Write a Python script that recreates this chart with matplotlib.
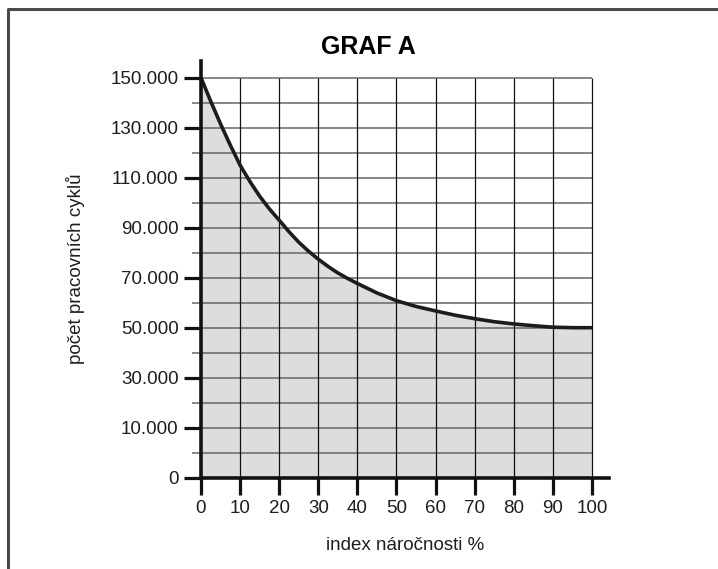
import matplotlib.pyplot as plt
import numpy as np
from matplotlib.lines import Line2D

plt.rcParams['font.family'] = ['Liberation Sans', 'DejaVu Sans']

# index náročnosti % and number of cycles
index_pct = [0, 2.5, 5, 7.5, 10, 12.5, 15, 17.5, 20, 22.5, 25, 27.5, 30, 32.5, 35, 37.5, 40,
             45, 50, 55, 60, 65, 70, 75, 80, 85, 90, 95, 100]
cycles = [150000, 140500, 131500, 123000, 115000, 108500, 102600, 97500, 93000, 88400, 84200,
          80600, 77400, 74500, 71900, 69700, 67700, 63900, 60800, 58500, 56700, 55000, 53600,
          52400, 51500, 50800, 50200, 50000, 50000]

x_ticks = [0, 10, 20, 30, 40, 50, 60, 70, 80, 90, 100]
y_ticks = [0, 10000, 30000, 50000, 70000, 90000, 110000, 130000, 150000]
y_tick_labels = ['0', '10.000', '30.000', '50.000', '70.000', '90.000', '110.000', '130.000', '150.000']
y_grid = [0, 5000, 10000, 20000, 30000, 40000, 50000, 60000, 70000, 80000, 90000,
          100000, 110000, 120000, 130000, 140000, 150000]


# the original axis gives the 0 - 10.000 step the same room as a 20.000 step
def fwd(v):
    v = np.asarray(v, dtype=float)
    return np.where(v < 10000, 2 * v, v + 10000)


def inv(p):
    p = np.asarray(p, dtype=float)
    return np.where(p < 20000, p / 2, p - 10000)


fig = plt.figure(figsize=(7.18, 5.69), dpi=100)
ax = fig.add_axes([201 / 718, 1 - 477.7 / 569, 408 / 718, 417 / 569])
ax.set_yscale('function', functions=(fwd, inv))

ax.fill_between(index_pct, 0, cycles, color='#dcdddf', lw=0, zorder=1)
ax.hlines(y_grid, 0, 100, color='#666666', lw=1.1, zorder=2)
ax.vlines(x_ticks[1:], 0, 150000, color='#111111', lw=0.9, zorder=2)
ax.plot(index_pct, cycles, color='#1c1c1c', lw=2.6, zorder=3, solid_capstyle='butt',
        solid_joinstyle='round')

ax.set_xlim(0, 104.35)
ax.set_ylim(0, 156800)

ax.set_xticks(x_ticks)
ax.set_yticks(y_ticks)
ax.set_yticklabels(y_tick_labels)
ax.set_yticks([5000, 20000, 40000, 60000, 80000, 100000, 120000, 140000], minor=True)
ax.tick_params(axis='both', which='major', length=12.2, width=2.3, color='#111111',
               labelsize=13.5, labelcolor='#1e1e1e')
ax.tick_params(axis='x', pad=4)
ax.tick_params(axis='y', pad=4)
ax.tick_params(axis='y', which='minor', length=6.5, width=1.1, color='#666666')
ax.tick_params(axis='x', which='minor', length=0)

for side in ['top', 'right']:
    ax.spines[side].set_visible(False)
for side in ['left', 'bottom']:
    ax.spines[side].set_linewidth(2.6)
    ax.spines[side].set_color('#111111')
    ax.spines[side].set_zorder(4)
ax.patch.set_alpha(0)

ax.set_xlabel('index náročnosti %', fontsize=13.5, color='#1e1e1e', labelpad=14)
ax.set_ylabel('počet pracovních cyklů', fontsize=13.5, color='#1e1e1e', labelpad=18)

fig.text(368 / 718, 1 - 47 / 569, 'GRAF A', ha='center', va='center', fontsize=18,
         fontweight='bold', stretch='condensed',
         family=['Liberation Sans Narrow', 'DejaVu Sans Condensed', 'Liberation Sans'])

# outer frame, only top and left edges fall inside the picture
fig.add_artist(Line2D([8 / 718, 8 / 718, 1.02], [-0.02, 1 - 9 / 569, 1 - 9 / 569],
                      transform=fig.transFigure, color='#4a4a4a', lw=2.2))

fig.savefig('out.png', dpi=100)
